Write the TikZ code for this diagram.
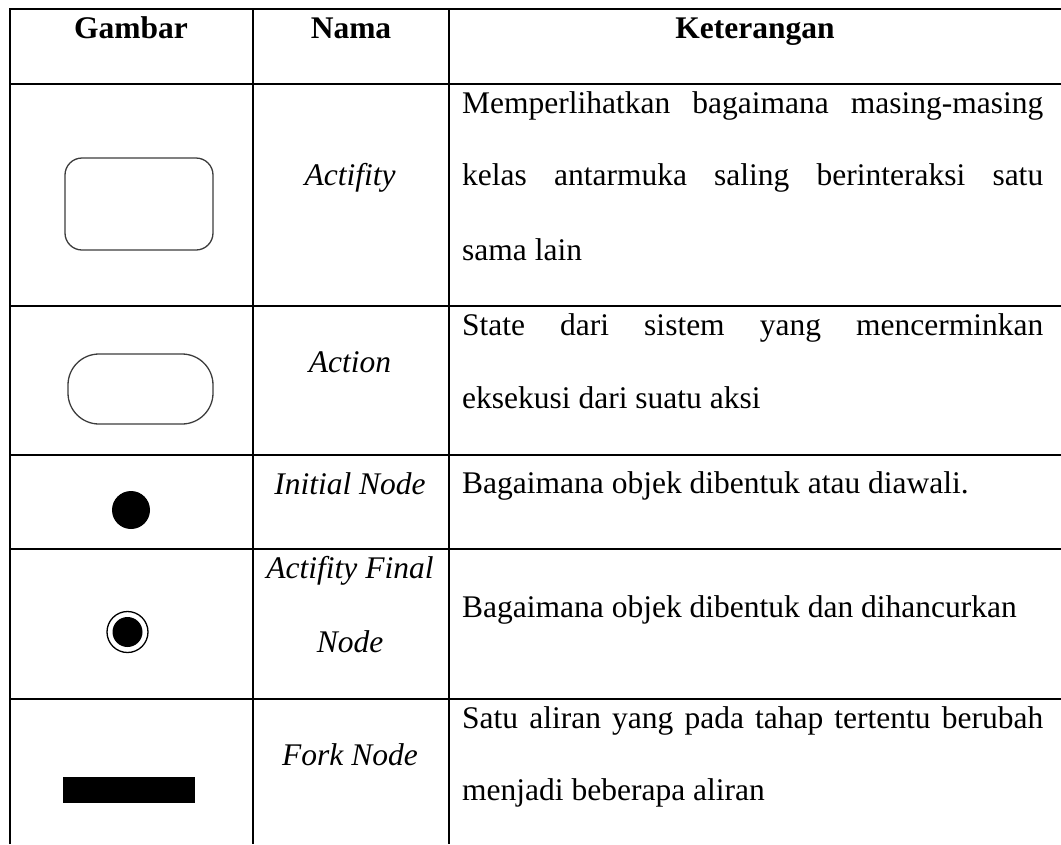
\documentclass[tikz,border=0pt]{standalone}
\usepackage{fontspec}
\setmainfont[Ligatures=NoCommon]{Liberation Serif}
\definecolor{shapegray}{HTML}{3C3C3C}
\begin{document}
\begin{tikzpicture}[x=1pt,y=-1pt,
  gridline/.style={line width=2.2pt},
  shapeline/.style={draw=shapegray, line width=1.3pt},
  txt/.style={inner sep=0pt, font=\fontsize{31.5}{36}\selectfont},
  head/.style={txt, anchor=base, font=\fontsize{31.5}{36}\selectfont\bfseries},
  nama/.style={txt, anchor=base, font=\fontsize{31.5}{36}\selectfont\itshape},
  ket/.style={txt, anchor=base west}]
\useasboundingbox (0,0) rectangle (1061,844);
% grid
\draw[gridline] (10,844) -- (10,9.3) -- (1061,9.3);
\foreach \yy in {84,306,455,549,699} \draw[gridline] (9,\yy) -- (1061,\yy);
\foreach \xx in {253,449} \draw[gridline] (\xx,9.3) -- (\xx,844);
% header
\node[head] (h1) at (131,38) {Gambar};
\node[head] (h2) at (351,38) {Nama};
\node[head] (h3) at (755,38) {Keterangan};
% shapes
\node[shapeline, rounded corners=17pt, minimum width=148pt, minimum height=92pt, inner sep=0pt] (act) at (139,204) {};
\node[shapeline, rounded corners=31pt, minimum width=145pt, minimum height=70pt, inner sep=0pt] (action) at (140.5,389) {};
\node[circle, fill=black, minimum size=38pt, inner sep=0pt] (init) at (131,510) {};
\node[circle, draw=black, line width=1.3pt, minimum size=41pt, inner sep=0pt] (finalo) at (127.5,632) {};
\node[circle, fill=black, minimum size=30pt, inner sep=0pt] (finali) at (127.5,632) {};
\node[fill=black, minimum width=132pt, minimum height=26pt, inner sep=0pt] (fork) at (129,790) {};
% names
\node[nama] (n1) at (350,185) {Actifity};
\node[nama] (n2) at (350,372) {Action};
\node[nama] (n3) at (350,494) {Initial Node};
\node[nama] (n4a) at (350,578) {Actifity Final};
\node[nama] (n4b) at (350,652) {Node};
\node[nama] (n5) at (350,765) {Fork Node};
% descriptions
\node[ket] (k1a) at (462,113) {\makebox[581pt][s]{Memperlihatkan bagaimana masing-masing}};
\node[ket] (k1b) at (462,185) {\makebox[581pt][s]{kelas antarmuka saling berinteraksi satu}};
\node[ket] (k1c) at (462,260) {sama lain};
\node[ket] (k2a) at (462,335) {\makebox[581pt][s]{State dari sistem yang mencerminkan}};
\node[ket] (k2b) at (462,408) {eksekusi dari suatu aksi};
\node[ket] (k3) at (462,493) {Bagaimana objek dibentuk atau diawali.};
\node[ket] (k4) at (462,617) {Bagaimana objek dibentuk dan dihancurkan};
\node[ket] (k5a) at (462,728) {\makebox[581pt][s]{Satu aliran yang pada tahap tertentu berubah}};
\node[ket] (k5b) at (462,800) {menjadi beberapa aliran};
\end{tikzpicture}
\end{document}
